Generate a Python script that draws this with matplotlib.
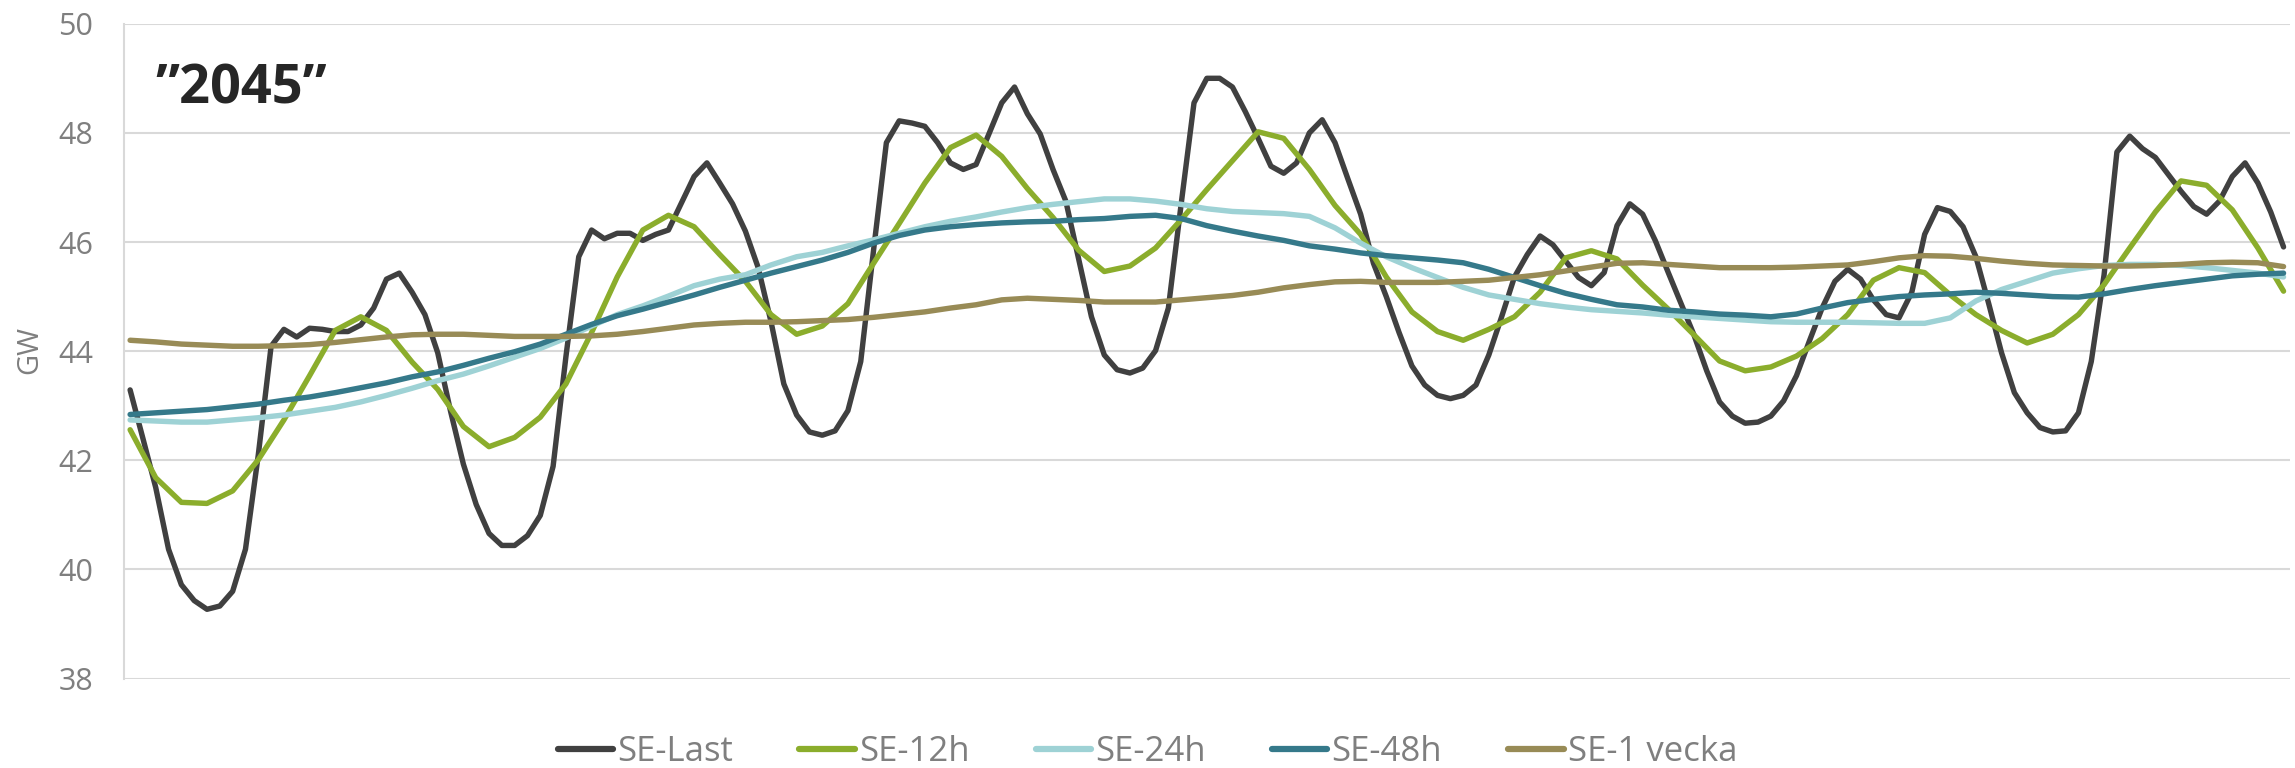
import matplotlib
matplotlib.use("Agg")
import matplotlib.pyplot as plt

plt.rcParams['font.family'] = ['Open Sans', 'DejaVu Sans']

# --- Data (GW), hourly over one week + 1 h ---
hours = list(range(169))
hours_2h = list(range(0, 169, 2))

se_last = [
    43.29, 42.4, 41.5, 40.37, 39.72, 39.43, 39.27, 39.33, 39.6, 40.37, 42.1, 44.09,
    44.40, 44.26, 44.42, 44.40, 44.36, 44.36, 44.48, 44.79, 45.32, 45.43, 45.08, 44.67,
    43.97, 42.9, 41.93, 41.19, 40.66, 40.44, 40.44, 40.62, 40.99, 41.89, 43.9, 45.73,
    46.22, 46.06, 46.16, 46.16, 46.03, 46.14, 46.22, 46.71, 47.2, 47.45, 47.08, 46.7,
    46.2, 45.53, 44.54, 43.4, 42.83, 42.52, 42.46, 42.54, 42.91, 43.81, 45.85, 47.82,
    48.22, 48.18, 48.12, 47.82, 47.45, 47.33, 47.42, 47.98, 48.55, 48.84, 48.35, 47.98,
    47.33, 46.75, 45.69, 44.63, 43.93, 43.66, 43.6, 43.69, 44.01, 44.79, 46.7, 48.55,
    49.0, 49.0, 48.84, 48.39, 47.9, 47.39, 47.26, 47.45, 48.0, 48.24, 47.82, 47.16,
    46.51, 45.61, 45.0, 44.34, 43.73, 43.38, 43.19, 43.13, 43.19, 43.38, 43.93, 44.63,
    45.36, 45.77, 46.11, 45.95, 45.65, 45.35, 45.2, 45.44, 46.3, 46.7, 46.51, 46.02,
    45.44, 44.87, 44.3, 43.64, 43.07, 42.81, 42.68, 42.7, 42.81, 43.09, 43.55, 44.18,
    44.79, 45.28, 45.5, 45.32, 44.94, 44.67, 44.61, 45.08, 46.14, 46.63, 46.56, 46.28,
    45.73, 44.87, 43.97, 43.24, 42.87, 42.6, 42.52, 42.54, 42.87, 43.81, 45.4, 47.65,
    47.94, 47.71, 47.55, 47.24, 46.93, 46.65, 46.51, 46.75, 47.2, 47.45, 47.08, 46.55,
    45.91,
]

# smoothed series, read every second hour
se_12h = [
    42.56, 41.68, 41.23, 41.21, 41.44, 42.01, 42.74, 43.55, 44.38, 44.63, 44.38, 43.8,
    43.3, 42.62, 42.25, 42.42, 42.79, 43.4, 44.34, 45.36, 46.22, 46.49, 46.28, 45.77,
    45.28, 44.67, 44.31, 44.46, 44.87, 45.61, 46.34, 47.08, 47.73, 47.96, 47.57, 46.98,
    46.45, 45.85, 45.46, 45.56, 45.89, 46.41, 46.96, 47.49, 48.02, 47.9, 47.33, 46.67,
    46.14, 45.36, 44.72, 44.36, 44.2, 44.4, 44.63, 45.08, 45.71, 45.84, 45.69, 45.21,
    44.77, 44.3, 43.82, 43.64, 43.71, 43.91, 44.23, 44.67, 45.3, 45.53, 45.44, 45.03,
    44.67, 44.38, 44.15, 44.31, 44.67, 45.22, 45.89, 46.55, 47.12, 47.04, 46.59, 45.89,
    45.1,
]

se_24h = [
    42.74, 42.72, 42.7, 42.7, 42.74, 42.78, 42.83, 42.9, 42.97, 43.07, 43.19, 43.32,
    43.46, 43.58, 43.73, 43.89, 44.05, 44.24, 44.46, 44.67, 44.83, 45.01, 45.2, 45.32,
    45.4, 45.58, 45.73, 45.81, 45.93, 46.04, 46.16, 46.28, 46.38, 46.46, 46.55, 46.63,
    46.69, 46.74, 46.79, 46.79, 46.75, 46.69, 46.61, 46.56, 46.54, 46.52, 46.47, 46.26,
    45.98, 45.73, 45.53, 45.35, 45.17, 45.03, 44.95, 44.87, 44.81, 44.76, 44.73, 44.7,
    44.66, 44.63, 44.6, 44.57, 44.54, 44.53, 44.53, 44.53, 44.52, 44.51, 44.51, 44.61,
    44.92, 45.13, 45.28, 45.43, 45.51, 45.57, 45.59, 45.59, 45.57, 45.53, 45.48, 45.43,
    45.36,
]

se_48h = [
    42.84, 42.87, 42.9, 42.93, 42.98, 43.03, 43.1, 43.16, 43.24, 43.33, 43.42, 43.53,
    43.62, 43.74, 43.87, 43.99, 44.13, 44.31, 44.49, 44.65, 44.77, 44.9, 45.03, 45.17,
    45.3, 45.43, 45.55, 45.67, 45.81, 45.98, 46.12, 46.22, 46.28, 46.32, 46.35, 46.37,
    46.38, 46.41, 46.43, 46.47, 46.49, 46.43, 46.3, 46.2, 46.11, 46.03, 45.93, 45.87,
    45.8, 45.75, 45.71, 45.67, 45.62, 45.5, 45.35, 45.2, 45.06, 44.95, 44.85, 44.81,
    44.75, 44.72, 44.68, 44.66, 44.63, 44.68, 44.79, 44.89, 44.95, 45.0, 45.03, 45.05,
    45.08, 45.06, 45.03, 45.0, 44.99, 45.05, 45.13, 45.2, 45.26, 45.32, 45.38, 45.41,
    45.43,
]

se_1v = [
    44.2, 44.17, 44.13, 44.11, 44.09, 44.09, 44.1, 44.12, 44.16, 44.21, 44.26, 44.3,
    44.31, 44.31, 44.29, 44.27, 44.27, 44.27, 44.28, 44.31, 44.36, 44.42, 44.48, 44.51,
    44.53, 44.53, 44.54, 44.56, 44.58, 44.62, 44.67, 44.72, 44.79, 44.85, 44.94, 44.97,
    44.95, 44.93, 44.9, 44.9, 44.9, 44.94, 44.98, 45.02, 45.08, 45.16, 45.22, 45.27,
    45.28, 45.26, 45.26, 45.26, 45.28, 45.3, 45.35, 45.4, 45.47, 45.54, 45.61, 45.62,
    45.59, 45.56, 45.53, 45.53, 45.53, 45.54, 45.56, 45.58, 45.64, 45.71, 45.75, 45.74,
    45.7, 45.65, 45.61, 45.58, 45.57, 45.56, 45.56, 45.57, 45.59, 45.62, 45.63, 45.62,
    45.55,
]

series = [
    ("SE-Last", hours, se_last, "#404040"),
    ("SE-12h", hours_2h, se_12h, "#8BAD2C"),
    ("SE-24h", hours_2h, se_24h, "#9ED2D5"),
    ("SE-48h", hours_2h, se_48h, "#35798A"),
    ("SE-1 vecka", hours_2h, se_1v, "#988B56"),
]

grid_col = "#D9D9D9"
txt_col = "#7F7F7F"

fig = plt.figure(figsize=(22.95, 7.68), dpi=100)
ax = fig.add_axes([0.0539, 0.1164, 0.9439, 0.8527])

for name, x, y, c in series:
    ax.plot(x, y, color=c, lw=3.9, label=name, solid_joinstyle='round', solid_capstyle='round')

ax.set_xlim(-0.5, 168.5)
ax.set_ylim(38, 50)
ax.set_yticks(range(38, 51, 2))
ax.set_xticks([])
ax.grid(axis='y', color=grid_col, lw=1.5)
ax.set_axisbelow(True)
for s in ['top', 'right', 'bottom']:
    ax.spines[s].set_visible(False)
ax.spines['left'].set_color(grid_col)
ax.spines['left'].set_linewidth(1.5)
ax.tick_params(axis='y', length=0, pad=22, labelsize=22, labelcolor=txt_col)

fig.text(30 / 2295, 1 - 350 / 768, "GW", rotation=90, ha='center', va='center',
         fontsize=21, color=txt_col)

ax.text(0.0145, 0.899, "\u201d2045\u201d", transform=ax.transAxes, ha='left', va='center',
        fontsize=39, fontweight='bold', color='#262626')

leg = fig.legend(loc='center', bbox_to_anchor=(0.5, 1 - 752 / 768), ncol=5, frameon=False,
                 fontsize=25, handlelength=1.6, handletextpad=0.12, columnspacing=1.9,
                 labelcolor=txt_col)
for ln in leg.get_lines():
    ln.set_linewidth(4.5)

fig.savefig("out.png", dpi=100)
